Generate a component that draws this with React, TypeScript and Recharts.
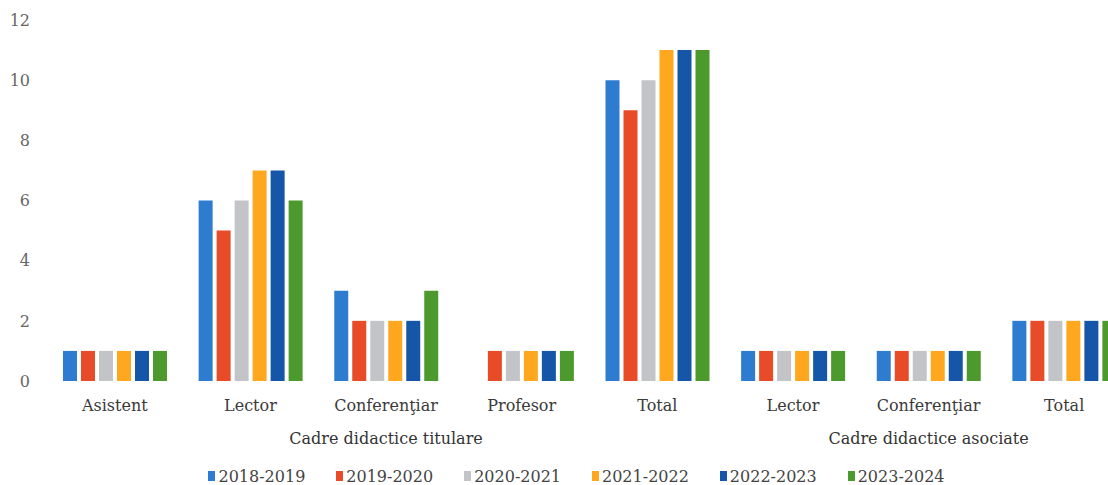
import React from "react";
import { BarChart, Bar, XAxis, YAxis, Legend } from "recharts";

const categories = ["Asistent", "Lector", "Conferenţiar", "Profesor", "Total", "Lector", "Conferenţiar", "Total"];
const groupLabels: { [k: number]: string } = { 2: "Cadre didactice titulare", 6: "Cadre didactice asociate" };
const seriesNames = ["2018-2019", "2019-2020", "2020-2021", "2021-2022", "2022-2023", "2023-2024"];
const s2018 = [1, 6, 3, 0, 10, 1, 1, 2];
const s2019 = [1, 5, 2, 1, 9, 1, 1, 2];
const s2020 = [1, 6, 2, 1, 10, 1, 1, 2];
const s2021 = [1, 7, 2, 1, 11, 1, 1, 2];
const s2022 = [1, 7, 2, 1, 11, 1, 1, 2];
const s2023 = [1, 6, 3, 1, 11, 1, 1, 2];
const yTicks = [0, 2, 4, 6, 8, 10, 12];
const colors = ["#2E7CD0", "#E84B28", "#C2C4C8", "#FFA71E", "#1656A8", "#4C9A2E"];

const seriesValues = [s2018, s2019, s2020, s2021, s2022, s2023];
const data = categories.map((c, i) => {
  const row: any = { id: i, name: c };
  seriesNames.forEach((s, j) => {
    row[s] = seriesValues[j][i];
  });
  return row;
});

const FONT = "'DejaVu Serif', serif";

const CatTick = (props: any) => {
  const { x, y, payload } = props;
  const idx = payload.index ?? payload.value;
  const label = categories[idx];
  const grp = groupLabels[idx];
  return (
    <g>
      <text x={x} y={y + 30} textAnchor="middle" fill="#3a3a3a" fontSize={16} fontFamily={FONT}>
        {label}
      </text>
      {grp && (
        <text x={x} y={y + 63} textAnchor="middle" fill="#333" fontSize={16} fontFamily={FONT}>
          {grp}
        </text>
      )}
    </g>
  );
};

const LegendContent = (props: any) => {
  const { payload } = props;
  return (
    <div style={{ height: 24, display: "flex", justifyContent: "center", alignItems: "center", fontFamily: FONT, fontSize: 16, color: "#444", paddingLeft: 52, transform: "translateY(3px)" }}>
      {(payload || []).map((p: any, i: number) => (
        <div key={i} style={{ display: "flex", alignItems: "center", marginRight: 31 }}>
          <span style={{ display: "inline-block", width: 7, height: 10, background: p.color, marginRight: 3 }} />
          <span>{p.value}</span>
        </div>
      ))}
    </div>
  );
};

export default function App() {
  return (
    <div style={{ position: "absolute", left: 0, top: 0, width: 1108, height: 485, overflow: "hidden", background: "#fff" }}>
      <BarChart
        width={1140}
        height={485}
        data={data}
        margin={{ top: 20, right: 8, left: 0, bottom: 0 }}
        barCategoryGap={16}
        barGap={4}
      >
        <XAxis
          dataKey="id"
          axisLine={false}
          tickLine={false}
          tickSize={0}
          tickMargin={0}
          height={80}
          interval={0}
          tick={<CatTick />}
        />
        <YAxis
          domain={[0, 12]}
          ticks={yTicks}
          axisLine={false}
          tickLine={false}
          tickSize={0}
          tickMargin={17}
          width={47}
          tick={{ fill: "#666", fontSize: 16, fontFamily: FONT }}
        />
        <Legend verticalAlign="bottom" content={<LegendContent />} />
        {seriesNames.map((s, i) => (
          <Bar key={s} dataKey={s} fill={colors[i]} isAnimationActive={false} />
        ))}
      </BarChart>
    </div>
  );
}
